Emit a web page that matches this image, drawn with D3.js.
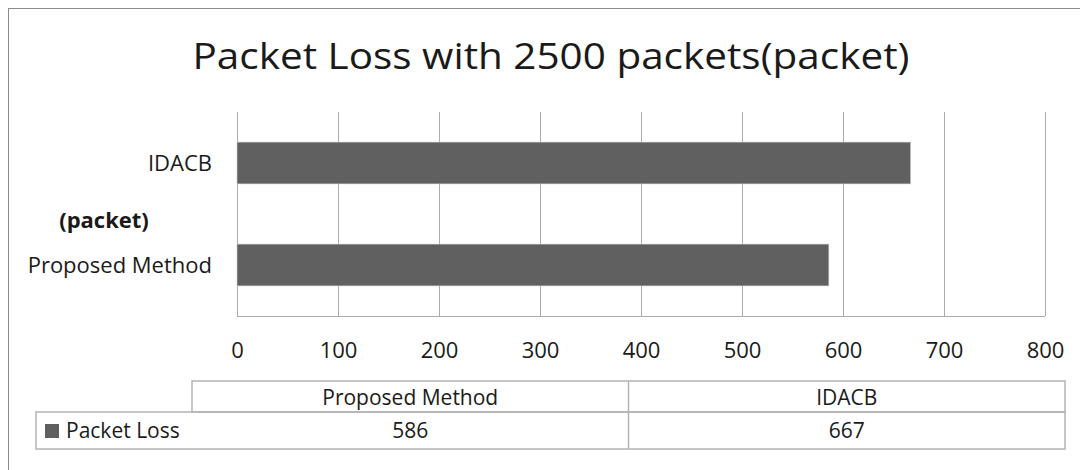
<!DOCTYPE html>
<html>
<head>
<meta charset="utf-8">
<script src="https://cdn.jsdelivr.net/npm/d3@7"></script>
<style>
  html, body { margin: 0; padding: 0; background: #fff; }
  svg text { font-family: "Open Sans", sans-serif; fill: #1a1a1a; }
</style>
</head>
<body>
<div id="chart"></div>
<script>
// chart data
var categories = ['Proposed Method', 'IDACB'];
var packetLoss = [586, 667];
var seriesName = 'Packet Loss';
var xTicks = [0, 100, 200, 300, 400, 500, 600, 700, 800];
var chartTitle = 'Packet Loss with 2500 packets(packet)';
var axisTitle = '(packet)';

function BarChart (params) {
  var attrs = {
    container: 'body',
    width: 1080,
    height: 470,
    fontSize: 21,
    barColor: '#606060',
    gridColor: '#ababab',
    tableColor: '#b4b4b4',
    plot: { left: 237, right: 1045, top: 112, bottom: 316 },
    table: { left: 36, colStart: 192, right: 1065, top: 381, mid: 412, bottom: 449 }
  };
  attrs = Object.assign(attrs, params);

  function main () {
    var svg = d3.select(attrs.container).append('svg')
      .attr('width', attrs.width)
      .attr('height', attrs.height);

    // outer chart border
    svg.append('rect')
      .attr('x', 8.5).attr('y', 8.5)
      .attr('width', attrs.width + 10).attr('height', attrs.height + 10)
      .attr('fill', 'none')
      .attr('stroke', '#8c8c8c');

    svg.append('text')
      .attr('x', 551).attr('y', 69)
      .attr('text-anchor', 'middle')
      .attr('font-size', 37)
      .attr('textLength', 717)
      .attr('lengthAdjust', 'spacingAndGlyphs')
      .text(chartTitle);

    var p = attrs.plot;
    var x = d3.scaleLinear().domain([0, 800]).range([p.left, p.right]);
    var y = d3.scaleBand().domain(categories.slice().reverse())
      .range([p.top, p.bottom]).paddingInner(0.59).paddingOuter(0.295);

    // vertical grid lines
    var xAxis = svg.append('g')
      .attr('transform', 'translate(0,' + p.bottom + ')')
      .call(d3.axisBottom(x).tickValues(xTicks).tickSize(-(p.bottom - p.top)).tickSizeOuter(0));
    xAxis.select('.domain').remove();
    xAxis.selectAll('.tick line').attr('stroke', attrs.gridColor).attr('stroke-width', 1);
    xAxis.selectAll('.tick text')
      .attr('y', 34).attr('dy', '0.35em')
      .attr('font-size', 22)
      .style('font-family', '"Open Sans", sans-serif')
      .attr('fill', '#1a1a1a');

    svg.append('line')
      .attr('x1', p.left).attr('x2', p.right)
      .attr('y1', p.bottom + 0.5).attr('y2', p.bottom + 0.5)
      .attr('stroke', attrs.gridColor);

    svg.selectAll('rect.bar')
      .data(categories)
      .enter().append('rect')
      .attr('class', 'bar')
      .attr('x', x(0))
      .attr('y', function (d) { return y(d); })
      .attr('width', function (d, i) { return x(packetLoss[i]) - x(0); })
      .attr('height', y.bandwidth())
      .attr('fill', attrs.barColor)
      .attr('stroke', '#cfcfcf')
      .attr('stroke-width', 0.6);

    // category labels
    svg.selectAll('text.cat')
      .data(categories)
      .enter().append('text')
      .attr('class', 'cat')
      .attr('x', 212)
      .attr('y', function (d) { return y(d) + y.bandwidth() / 2; })
      .attr('dy', '0.35em')
      .attr('text-anchor', 'end')
      .attr('font-size', 22)
      .text(function (d) { return d; });

    svg.append('text')
      .attr('x', 104).attr('y', 220)
      .attr('dy', '0.35em')
      .attr('text-anchor', 'middle')
      .attr('font-size', 22)
      .attr('font-weight', 'bold')
      .text(axisTitle);

    // data table
    var t = attrs.table;
    var cols = d3.scaleBand().domain(categories).range([t.colStart, t.right]);
    var g = svg.append('g').attr('stroke', attrs.tableColor).attr('stroke-width', 1.5).attr('fill', 'none');
    g.append('rect').attr('x', t.colStart).attr('y', t.top).attr('width', t.right - t.colStart).attr('height', t.mid - t.top);
    g.append('rect').attr('x', t.left).attr('y', t.mid).attr('width', t.right - t.left).attr('height', t.bottom - t.mid);
    g.selectAll('line.col')
      .data(categories.slice(1))
      .enter().append('line')
      .attr('x1', function (d) { return cols(d); }).attr('x2', function (d) { return cols(d); })
      .attr('y1', t.top).attr('y2', t.bottom);

    svg.selectAll('text.head')
      .data(categories)
      .enter().append('text')
      .attr('x', function (d) { return cols(d) + cols.bandwidth() / 2; })
      .attr('y', (t.top + t.mid) / 2 + 1).attr('dy', '0.35em')
      .attr('text-anchor', 'middle')
      .attr('font-size', attrs.fontSize)
      .text(function (d) { return d; });

    svg.selectAll('text.val')
      .data(categories)
      .enter().append('text')
      .attr('x', function (d) { return cols(d) + cols.bandwidth() / 2; })
      .attr('y', (t.mid + t.bottom) / 2).attr('dy', '0.35em')
      .attr('text-anchor', 'middle')
      .attr('font-size', attrs.fontSize)
      .text(function (d, i) { return packetLoss[i]; });

    // legend key
    svg.append('rect')
      .attr('x', 45).attr('y', 424)
      .attr('width', 14).attr('height', 14)
      .attr('fill', attrs.barColor);
    svg.append('text')
      .attr('x', 66).attr('y', (t.mid + t.bottom) / 2).attr('dy', '0.35em')
      .attr('font-size', attrs.fontSize)
      .text(seriesName);
  }

  main.render = function () {
    main();
    return main;
  };

  return main;
}

BarChart({ container: '#chart' }).render();
</script>
</body>
</html>
